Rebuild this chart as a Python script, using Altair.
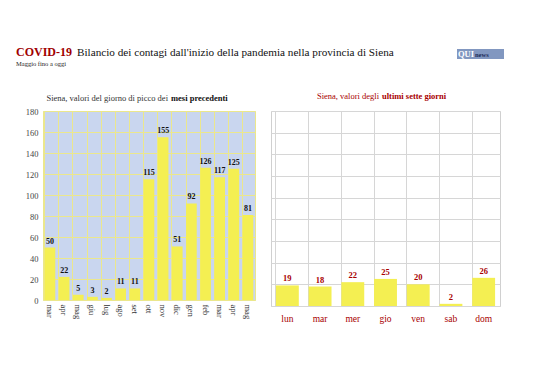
import altair as alt
import pandas as pd

months = ["mar", "apr", "mag", "giu", "lug", "ago", "set", "ott", "nov", "dic", "gen", "feb", "mar", "apr", "mag"]
peak_values = [50, 22, 5, 3, 2, 11, 11, 115, 155, 51, 92, 126, 117, 125, 81]
days = ["lun", "mar", "mer", "gio", "ven", "sab", "dom"]
week_values = [19, 18, 22, 25, 20, 2, 26]
y_ticks = [0, 20, 40, 60, 80, 100, 120, 140, 160, 180]

FONT = "Liberation Serif"
BAR = "#f4ef52"
RED = "#a80000"

left_df = pd.DataFrame({
    "key": [f"{i:02d}_{m}" for i, m in enumerate(months)],
    "v": peak_values,
})
right_df = pd.DataFrame({
    "key": [f"{i:02d}_{d}" for i, d in enumerate(days)],
    "v": week_values,
})
one = pd.DataFrame({"a": [0]})

yscale = alt.Scale(domain=[0, 180], nice=False)
lab = "split(datum.label,'_')[1]"

# ---------- left panel ----------
lx = alt.X("key:N", sort="ascending", title=None,
           scale=alt.Scale(paddingInner=0.25, paddingOuter=0.12),
           axis=alt.Axis(labelExpr=lab, labelAngle=90, labelAlign="left", labelBaseline="middle",
                         labelFont=FONT, labelFontSize=8.5, labelColor="#333", labelPadding=4,
                         ticks=False, domain=False, grid=False))
ly = alt.Y("v:Q", scale=yscale, title=None,
           axis=alt.Axis(values=y_ticks, labelFont=FONT, labelFontSize=8.5, labelColor="#444",
                         labelPadding=5, ticks=False, domain=False, grid=True, labelOverlap=False,
                         gridColor="#ebe78c", gridWidth=1))
left_bars = alt.Chart(left_df).mark_bar(color=BAR).encode(x=lx, y=ly)
left_grid_x = alt.X("key:N", sort="ascending", title=None,
                    axis=alt.Axis(orient="top", bandPosition=0, labels=False, ticks=False,
                                  domain=False, grid=True, gridColor="#ebe78c", gridWidth=1))
left_text = alt.Chart(left_df).mark_text(font=FONT, fontSize=8, fontWeight="bold", color="#111",
                                         dy=-6).encode(
    x=left_grid_x, y=ly, text="v:Q")

def txt(s, x, y, size, color="#222", weight="normal", align="left"):
    return alt.Chart(one).mark_text(text=s, font=FONT, fontSize=size, color=color,
                                    fontWeight=weight, align=align, baseline="alphabetic").encode(
        x=alt.value(x), y=alt.value(y))

header = [
    txt("COVID-19", -27, -55, 12, "#a00000", "bold"),
    txt("Bilancio dei contagi dall'inizio della pandemia nella provincia di Siena", 34, -55, 11.2, "#111"),
    txt("Maggio fino a oggi", -27, -45, 6.5, "#222"),
    txt("Siena, valori del giorno di picco dei", 125, -10, 8.5, "#333", align="right"),
    txt("mesi precedenti", 128, -10, 8.5, "#111", "bold"),
    alt.Chart(one).mark_rect(color="#8197c0").encode(
        x=alt.value(414), x2=alt.value(461), y=alt.value(-62), y2=alt.value(-52)),
    txt("QUI", 415, -54, 8.5, "white", "bold"),
    txt("news", 432, -54, 6.5, "#1d2c5a", "bold"),
]

left = alt.layer(left_bars, left_text, *header).resolve_axis(x="independent").properties(
    width=212, height=189)

# ---------- right panel ----------
rx = alt.X("key:N", sort="ascending", title=None,
           scale=alt.Scale(paddingInner=0.3, paddingOuter=0.15),
           axis=alt.Axis(labelExpr=lab, labelAngle=0, labelFont=FONT, labelFontSize=9.5,
                         labelColor=RED, labelPadding=7, ticks=False, domain=False, grid=False))
ry = alt.Y("v:Q", scale=yscale, title=None,
           axis=alt.Axis(values=y_ticks, labels=False, ticks=False, domain=False, grid=True,
                         gridColor="#d6d6d6", gridWidth=1))
right_bars = alt.Chart(right_df).mark_bar(color=BAR).encode(x=rx, y=ry)
right_grid_x = alt.X("key:N", sort="ascending", title=None,
                     axis=alt.Axis(orient="top", bandPosition=0, labels=False, ticks=False,
                                   domain=False, grid=True, gridColor="#d6d6d6", gridWidth=1))
right_text = alt.Chart(right_df).mark_text(font=FONT, fontSize=8.5, fontWeight="bold", color=RED,
                                           dy=-7).encode(
    x=right_grid_x, y=ry, text="v:Q")
right_head = [
    txt("Siena, valori degli", 108, -12, 8.5, RED, align="right"),
    txt("ultimi sette giorni", 111, -12, 8.5, RED, "bold"),
]
right = alt.layer(right_bars, right_text, *right_head).resolve_axis(x="independent").properties(
    width=229, height=195)

chart = alt.hconcat(
    left.properties(view=alt.ViewBackground(fill="#c9d6ef", stroke="#ebe78c")),
    right.properties(view=alt.ViewBackground(fill="white", stroke="#d0d0d0")),
    spacing=16, bounds="flush",
).properties(padding={"left": 7, "top": 37, "right": 5, "bottom": 5},
             background="white")

chart.save("out.html", embed_options={"renderer": "svg", "actions": False})
